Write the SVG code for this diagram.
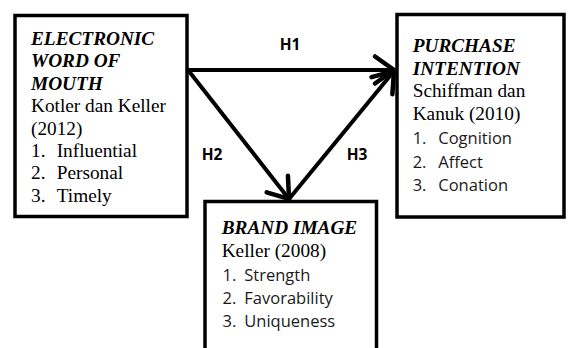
<svg xmlns="http://www.w3.org/2000/svg" width="568" height="348" viewBox="0 0 568 348">
<defs>
<style>
.box{fill:#fff;stroke:#000;stroke-width:3.5}
.conn{stroke:#000;stroke-width:4;fill:none}
.ttl{font-family:"Liberation Serif","Times New Roman",serif;font-size:19.3px;font-weight:bold;font-style:italic;fill:#000}
.ser{font-family:"Liberation Serif","Times New Roman",serif;font-size:19.3px;fill:#000}
.sans{font-family:"Open Sans","Noto Sans",sans-serif;font-size:16.5px;fill:#1a1a1a}
.lbl{font-family:"Open Sans","Noto Sans",sans-serif;font-size:15.5px;font-weight:bold;fill:#000;text-anchor:middle}
</style>
<marker id="arr" markerUnits="userSpaceOnUse" viewBox="-25 -20 30 40" refX="0" refY="0" markerWidth="30" markerHeight="40" orient="auto" overflow="visible">
<path d="M-19,-13.5 L0,0 L-19,13.5" fill="none" stroke="#000" stroke-width="4.5" stroke-linejoin="miter" stroke-linecap="round"/>
</marker>
</defs>
<rect width="568" height="348" fill="#fff"/>
<g id="ewom">
<rect class="box" x="15" y="15.5" width="172" height="201"/>
<text class="ttl" x="31" y="45">ELECTRONIC</text>
<text class="ttl" x="31" y="67.4">WORD OF</text>
<text class="ttl" x="31" y="89.8">MOUTH</text>
<text class="ser" x="31" y="112.2">Kotler dan Keller</text>
<text class="ser" x="31" y="134.6">(2012)</text>
<text class="ser" x="31" y="157">1.</text><text class="ser" x="56.7" y="157">Influential</text>
<text class="ser" x="31" y="179.4">2.</text><text class="ser" x="56.7" y="179.4">Personal</text>
<text class="ser" x="31" y="201.8">3.</text><text class="ser" x="56.7" y="201.8">Timely</text>
</g>
<g id="purchase">
<rect class="box" x="397" y="14.5" width="167" height="202.5"/>
<text class="ttl" x="412.7" y="52">PURCHASE</text>
<text class="ttl" x="412.7" y="74.5">INTENTION</text>
<text class="ser" x="412.7" y="97">Schiffman dan</text>
<text class="ser" x="412.7" y="119.5">Kanuk (2010)</text>
<text class="sans" x="412.7" y="144">1.</text><text class="sans" x="438.3" y="144">Cognition</text>
<text class="sans" x="412.7" y="167.5">2.</text><text class="sans" x="438.3" y="167.5">Affect</text>
<text class="sans" x="412.7" y="191">3.</text><text class="sans" x="438.3" y="191">Conation</text>
</g>
<g id="brand">
<rect class="box" x="205" y="201.5" width="171.5" height="160"/>
<text class="ttl" x="221.7" y="234.3">BRAND IMAGE</text>
<text class="ser" x="221.7" y="256.7">Keller (2008)</text>
<text class="sans" x="222.5" y="280.5">1.</text><text class="sans" x="244.3" y="280.5">Strength</text>
<text class="sans" x="222.5" y="304">2.</text><text class="sans" x="244.3" y="304">Favorability</text>
<text class="sans" x="222.5" y="327">3.</text><text class="sans" x="244.3" y="327">Uniqueness</text>
</g>
<g id="connectors">
<line class="conn" x1="188" y1="70" x2="394" y2="70" marker-end="url(#arr)"/>
<line class="conn" x1="188" y1="70" x2="289" y2="199" marker-end="url(#arr)"/>
<line class="conn" x1="289" y1="199" x2="394" y2="71" marker-end="url(#arr)"/>
<text class="lbl" x="290" y="49.5">H1</text>
<text class="lbl" x="212" y="159.5">H2</text>
<text class="lbl" x="357" y="159.5">H3</text>
</g>
</svg>
